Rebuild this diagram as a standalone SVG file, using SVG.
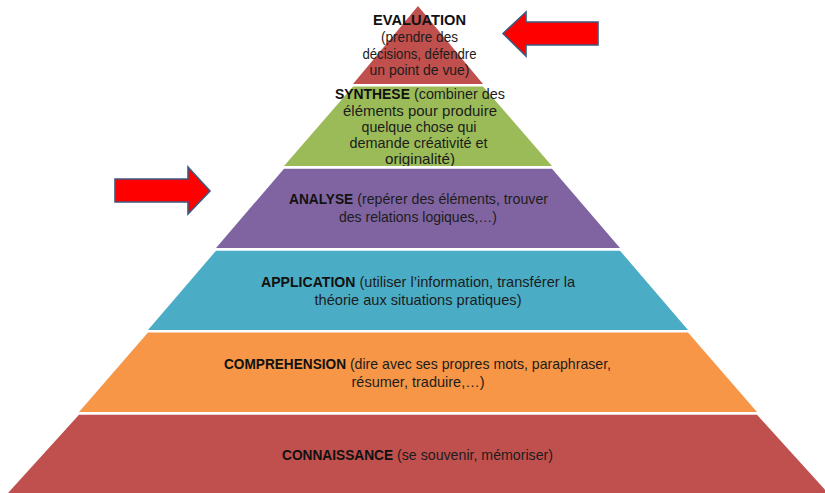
<svg xmlns="http://www.w3.org/2000/svg" width="825" height="493" viewBox="0 0 825 493">
  <style>
    .t{font-family:"Liberation Sans",Arial,sans-serif;font-size:15px;fill:#1c1c1c}
    .b{font-weight:bold;font-size:14.5px;fill:#111}
    .arrow{fill:#ff0000;stroke:#3d5a80;stroke-width:1.6;stroke-linejoin:miter}
  </style>
  <defs>
    <!-- keeps the last line of the green level from spilling into the gap below -->
    <clipPath id="clip-synthese">
      <rect x="0" y="0" width="825" height="166"/>
    </clipPath>
  </defs>

  <rect width="825" height="493" fill="#ffffff"/>

  <!-- top level of the pyramid -->
  <g id="tier-evaluation">
    <polygon points="418,6 483,84 353,84" fill="#c0504d"/>
    <text class="t b" x="419.5" y="25" text-anchor="middle" font-size="16" textLength="93" lengthAdjust="spacingAndGlyphs">EVALUATION</text>
    <text class="t" x="419.5" y="42" text-anchor="middle" font-size="14" textLength="77" lengthAdjust="spacingAndGlyphs">(prendre des</text>
    <text class="t" x="419.5" y="58.5" text-anchor="middle" font-size="14" textLength="114" lengthAdjust="spacingAndGlyphs">décisions, défendre</text>
    <text class="t" x="419.5" y="75" text-anchor="middle" font-size="14" textLength="100" lengthAdjust="spacingAndGlyphs">un point de vue)</text>
  </g>

  <g id="tier-synthese">
    <polygon points="353,86.5 483,86.5 552,166 284,166" fill="#9bbb59"/>
    <g clip-path="url(#clip-synthese)">
      <text class="t" x="420" y="98.5" text-anchor="middle" textLength="170" lengthAdjust="spacingAndGlyphs"><tspan class="b" font-size="15">SYNTHESE</tspan> (combiner des</text>
      <text class="t" x="420" y="115.5" text-anchor="middle" textLength="154" lengthAdjust="spacingAndGlyphs">éléments pour produire</text>
      <text class="t" x="419" y="131.5" text-anchor="middle" textLength="115" lengthAdjust="spacingAndGlyphs">quelque chose qui</text>
      <text class="t" x="418.5" y="147.5" text-anchor="middle" textLength="138" lengthAdjust="spacingAndGlyphs">demande créativité et</text>
      <text class="t" x="420" y="164" text-anchor="middle" textLength="70" lengthAdjust="spacingAndGlyphs">originalité)</text>
    </g>
  </g>

  <g id="tier-analyse">
    <polygon points="284,168.7 552,168.7 620,248 216,248" fill="#8064a2"/>
    <text class="t" x="418.5" y="204" text-anchor="middle" textLength="259" lengthAdjust="spacingAndGlyphs"><tspan class="b">ANALYSE</tspan> (repérer des éléments, trouver</text>
    <text class="t" x="418" y="222" text-anchor="middle" textLength="158" lengthAdjust="spacingAndGlyphs">des relations logiques,…)</text>
  </g>

  <g id="tier-application">
    <polygon points="216,250.7 620,250.7 688,330 148,330" fill="#4bacc6"/>
    <text class="t" x="418" y="287" text-anchor="middle" textLength="314" lengthAdjust="spacingAndGlyphs"><tspan class="b">APPLICATION</tspan> (utiliser l’information, transférer la</text>
    <text class="t" x="418" y="305" text-anchor="middle" textLength="207" lengthAdjust="spacingAndGlyphs">théorie aux situations pratiques)</text>
  </g>

  <g id="tier-comprehension">
    <polygon points="148,332.5 688,332.5 757,412 79,412" fill="#f79646"/>
    <text class="t" x="417.5" y="369" text-anchor="middle" textLength="387" lengthAdjust="spacingAndGlyphs"><tspan class="b">COMPREHENSION</tspan> (dire avec ses propres mots, paraphraser,</text>
    <text class="t" x="418" y="387" text-anchor="middle" textLength="133" lengthAdjust="spacingAndGlyphs">résumer, traduire,…)</text>
  </g>

  <!-- base of the pyramid -->
  <g id="tier-connaissance">
    <polygon points="79,414.8 757,414.8 828,493 8,493" fill="#c0504d"/>
    <text class="t" x="417.5" y="460" text-anchor="middle" font-size="14" textLength="271" lengthAdjust="spacingAndGlyphs"><tspan class="b" font-size="16">CONNAISSANCE</tspan> (se souvenir, mémoriser)</text>
  </g>

  <!-- block arrows pointing at two levels -->
  <g id="pointers">
    <g id="arrow-evaluation">
      <polygon class="arrow" points="503,33.5 526,12 526,22 598,22 598,45 526,45 526,56"/>
    </g>
    <g id="arrow-analyse">
      <polygon class="arrow" points="115,179 188,179 188,167 210,191 188,214 188,202 115,202"/>
    </g>
  </g>
</svg>
